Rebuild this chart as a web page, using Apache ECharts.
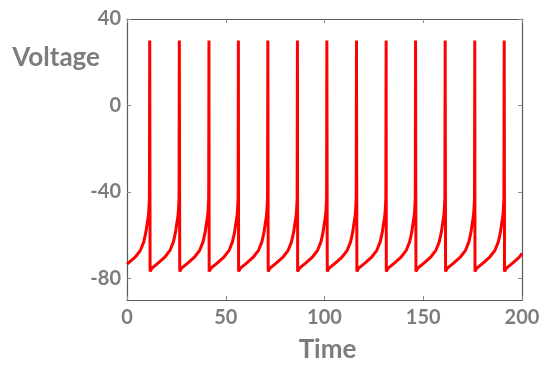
<!DOCTYPE html>
<html>
<head>
<meta charset="utf-8">
<script src="https://cdn.jsdelivr.net/npm/echarts@6/dist/echarts.min.js"></script>
<style>html,body{margin:0;padding:0;background:#fff}#c{width:550px;height:368px}</style>
</head>
<body>
<div id="c"></div>
<script>
// Spike (peak) times
const spikeTimes = [11.5, 26.5, 41.5, 56.4, 71.3, 86.3, 101.2, 116.2, 131.2, 146.1, 161.1, 176.1, 191.0];
// Shape of one inter-spike cycle: time offset before the next spike, voltage
const cycleOffsets = [-14.8, -14.0, -10.6, -7.2, -4.7, -3.0, -2.5, -1.9, -1.2, -0.8, -0.5, -0.15, 0];
const cycleVolts   = [-76.8, -75.4, -72.8, -70.0, -67.0, -63.1, -61.0, -58.5, -54.0, -52.0, -49.3, -43.2, 30];
// Start and tail (after the last spike)
const startPoint = [0, -73.4];
const tailTimes = [191.16, 191.96, 195.4, 198.8, 200];
const tailVolts = [-76.8, -75.4, -72.8, -70.0, -68.4];
// Axis ticks
const xTicks = [0, 50, 100, 150, 200];
const yTicks = [-80, -40, 0, 40];

const data = [startPoint];
spikeTimes.forEach(function (ts) {
  for (let k = 0; k < cycleOffsets.length; k++) {
    const t = ts + cycleOffsets[k];
    if (t > 0) data.push([t, cycleVolts[k]]);
  }
});
for (let k = 0; k < tailTimes.length; k++) data.push([tailTimes[k], tailVolts[k]]);

const labelStyle = {color: '#7d7d7d', fontFamily: 'Lato', fontWeight: 'bold', fontSize: 20};
const lineCol = '#5a5a5a';
const tickCol = '#8a8a8a';

const chart = echarts.init(document.getElementById('c'));
chart.setOption({
  animation: false,
  grid: {left: 127, right: 28, top: 19, bottom: 67},
  xAxis: [{
    type: 'value', min: 0, max: 200, interval: 50,
    name: 'Time', nameLocation: 'middle', nameGap: 37,
    nameTextStyle: {color: '#7d7d7d', fontFamily: 'Lato', fontWeight: 'bold', fontSize: 26, padding: [0, 0, 0, 6]},
    axisLine: {show: true, onZero: false, lineStyle: {color: lineCol, width: 1.2}},
    axisTick: {show: true, inside: true, length: 4, lineStyle: {color: tickCol}},
    axisLabel: Object.assign({margin: 8}, labelStyle),
    splitLine: {show: false}
  }, {
    type: 'value', min: 0, max: 200, interval: 50, position: 'top',
    axisLine: {show: true, onZero: false, lineStyle: {color: lineCol, width: 1.2}},
    axisTick: {show: true, inside: true, length: 4, lineStyle: {color: tickCol}},
    axisLabel: {show: false}, splitLine: {show: false}
  }],
  yAxis: [{
    type: 'value', min: -90, max: 40,
    name: 'Voltage', nameLocation: 'end', nameGap: -39,
    nameTextStyle: {color: '#7d7d7d', fontFamily: 'Lato', fontWeight: 'bold', fontSize: 26,
      align: 'right', verticalAlign: 'middle', padding: [0, 27, 0, 0]},
    axisLine: {show: true, onZero: false, lineStyle: {color: lineCol, width: 1.2}},
    axisTick: {show: true, inside: true, length: 4, customValues: yTicks, lineStyle: {color: tickCol}},
    axisLabel: Object.assign({margin: 6, customValues: yTicks}, labelStyle),
    splitLine: {show: false}
  }, {
    type: 'value', min: -90, max: 40, position: 'right',
    axisLine: {show: true, onZero: false, lineStyle: {color: lineCol, width: 1.2}},
    axisTick: {show: true, inside: true, length: 4, customValues: yTicks, lineStyle: {color: tickCol}},
    axisLabel: {show: false}, splitLine: {show: false}
  }],
  series: [{
    type: 'line', xAxisIndex: 0, yAxisIndex: 0,
    data: data, showSymbol: false, smooth: false,
    lineStyle: {color: '#ff0000', width: 3}
  }]
});
</script>
</body>
</html>
